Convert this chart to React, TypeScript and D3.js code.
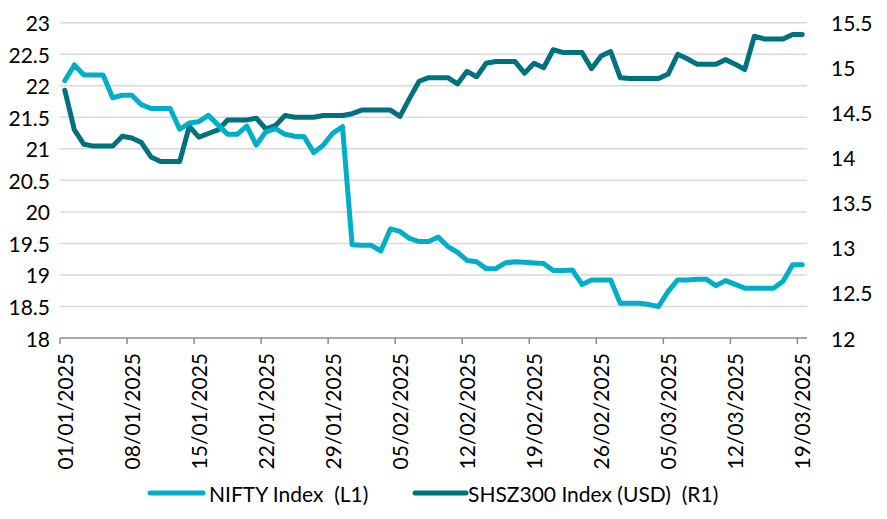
import React from "react";
import * as d3 from "d3";

// daily values, 01/01/2025 .. 19/03/2025
const niftyValues = [
  22.08, 22.33, 22.17, 22.17, 22.17, 21.81, 21.85, 21.85, 21.7, 21.64,
  21.64, 21.64, 21.31, 21.41, 21.43, 21.53, 21.38, 21.23, 21.23, 21.36,
  21.06, 21.27, 21.32, 21.23, 21.2, 21.19, 20.94, 21.06, 21.25, 21.35,
  19.48, 19.47, 19.47, 19.38, 19.73, 19.69, 19.58, 19.53, 19.53, 19.6,
  19.45, 19.36, 19.23, 19.21, 19.1, 19.1, 19.19, 19.21, 19.2, 19.19,
  19.18, 19.07, 19.07, 19.08, 18.85, 18.92, 18.92, 18.92, 18.55, 18.55,
  18.55, 18.53, 18.5, 18.74, 18.92, 18.92, 18.93, 18.93, 18.83, 18.91,
  18.85, 18.79, 18.79, 18.79, 18.79, 18.9, 19.16, 19.16
];

const shszValues = [
  14.75, 14.31, 14.15, 14.13, 14.13, 14.13, 14.24, 14.22, 14.17, 14.01,
  13.96, 13.96, 13.96, 14.35, 14.23, 14.27, 14.31, 14.42, 14.42, 14.42,
  14.44, 14.32, 14.36, 14.47, 14.45, 14.45, 14.45, 14.47, 14.47, 14.47,
  14.49, 14.53, 14.53, 14.53, 14.53, 14.46, 14.66, 14.85, 14.89, 14.89,
  14.89, 14.82, 14.96, 14.9, 15.05, 15.07, 15.07, 15.07, 14.94, 15.05,
  15.0, 15.2, 15.17, 15.17, 15.17, 14.99, 15.13, 15.18, 14.89, 14.88,
  14.88, 14.88, 14.88, 14.93, 15.15, 15.1, 15.04, 15.04, 15.04, 15.09,
  15.04, 14.98, 15.35, 15.32, 15.32, 15.32, 15.37, 15.37
];

const leftTicks = [18, 18.5, 19, 19.5, 20, 20.5, 21, 21.5, 22, 22.5, 23];
const rightTicks = [12, 12.5, 13, 13.5, 14, 14.5, 15, 15.5];

const seriesNames = ["NIFTY Index  (L1)", "SHSZ300 Index (USD)  (R1)"];
const colors = ["#00AFC7", "#00727E"];

const startDate = new Date(2025, 0, 1);
const endDate = new Date(2025, 2, 20);
const dates = d3.timeDay.range(startDate, endDate);
const tickDates = d3.timeDay.range(startDate, endDate, 7);

const W = 887;
const H = 519;
const FONT = "Lato, 'Open Sans', sans-serif";
const FS = 21;

export default function App() {
  const x = d3.scaleTime().domain([startDate, endDate]).range([60, 807]);
  const yL = d3.scaleLinear().domain([18, 23]).range([338, 22.7]);
  const yR = d3.scaleLinear().domain([12, 15.5]).range([338, 22.7]);
  const fmt = d3.timeFormat("%d/%m/%Y");

  const px = (i: number) => x(d3.timeHour.offset(dates[i], 12));

  const niftyLine = d3
    .line<number>()
    .x((_, i) => px(i))
    .y((d) => yL(d));
  const shszLine = d3
    .line<number>()
    .x((_, i) => px(i))
    .y((d) => yR(d));

  return (
    <svg
      width={W}
      height={H}
      style={{ position: "absolute", left: 0, top: 0, background: "#fff" }}
      fontFamily={FONT}
    >
      {/* grid */}
      {leftTicks.slice(1).map((t) => (
        <line key={t} x1={60} x2={807} y1={yL(t)} y2={yL(t)} stroke="#D9D9D9" strokeWidth={1.5} />
      ))}
      {/* x axis */}
      <line x1={60} x2={807} y1={338} y2={338} stroke="#8C8C8C" strokeWidth={1.5} />
      {tickDates.map((d) => (
        <g key={+d}>
          <line x1={x(d)} x2={x(d)} y1={338} y2={344} stroke="#8C8C8C" strokeWidth={1.5} />
          <text
            transform={`translate(${x(d) + 13},353) rotate(-90)`}
            textAnchor="end"
            fontSize={FS}
            fill="#000"
          >
            {fmt(d)}
          </text>
        </g>
      ))}
      {/* left axis labels */}
      {leftTicks.map((t) => (
        <text key={t} x={50} y={yL(t)} textAnchor="end" dominantBaseline="central" fontSize={FS}>
          {t}
        </text>
      ))}
      {/* right axis labels */}
      {rightTicks.map((t) => (
        <text key={t} x={831} y={yR(t)} textAnchor="start" dominantBaseline="central" fontSize={FS}>
          {t}
        </text>
      ))}
      {/* lines */}
      <path d={shszLine(shszValues) ?? ""} fill="none" stroke={colors[1]} strokeWidth={5} strokeLinejoin="round" strokeLinecap="round" />
      <path d={niftyLine(niftyValues) ?? ""} fill="none" stroke={colors[0]} strokeWidth={5} strokeLinejoin="round" strokeLinecap="round" />
      {/* legend */}
      <g>
        <line x1={150} x2={203} y1={493} y2={493} stroke={colors[0]} strokeWidth={5} strokeLinecap="round" />
        <text x={209} y={493} dominantBaseline="central" fontSize={FS} xmlSpace="preserve" style={{ whiteSpace: "pre" }}>
          {seriesNames[0]}
        </text>
        <line x1={415} x2={466} y1={493} y2={493} stroke={colors[1]} strokeWidth={5} strokeLinecap="round" />
        <text x={468} y={493} dominantBaseline="central" fontSize={FS} xmlSpace="preserve" style={{ whiteSpace: "pre" }}>
          {seriesNames[1]}
        </text>
      </g>
    </svg>
  );
}
